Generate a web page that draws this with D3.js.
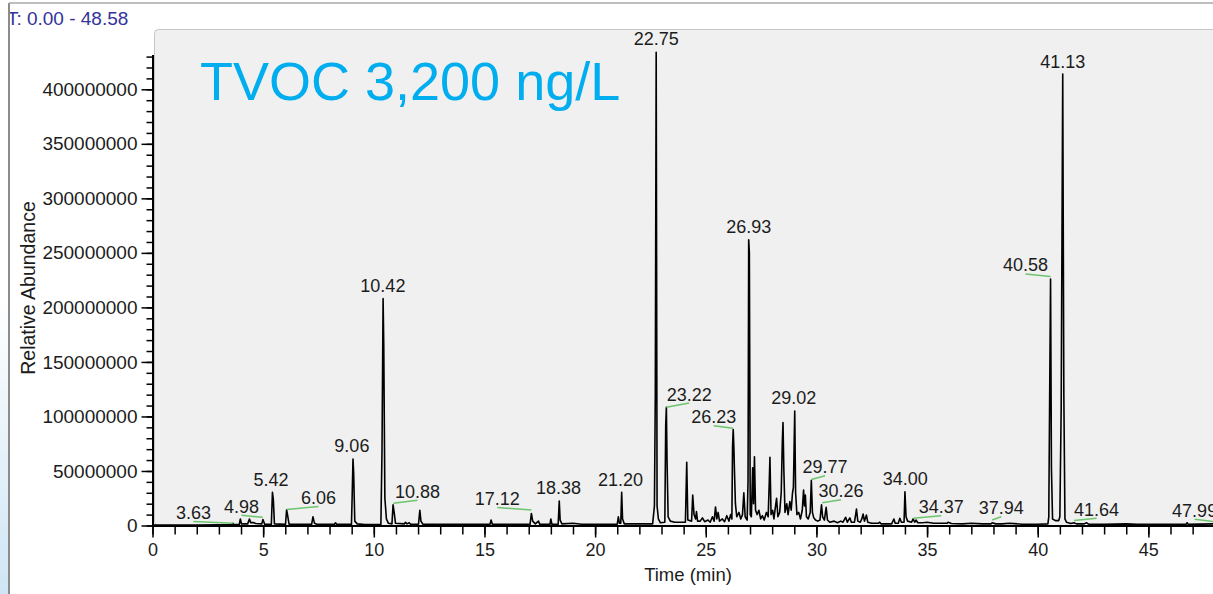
<html>
<head>
<meta charset="utf-8">
<title>TVOC chromatogram</title>
<script src="https://d3js.org/d3.v7.min.js"></script>
<style>
  body { margin: 0; background: #fff; }
  text { font-family: "Liberation Sans", Arial, sans-serif; }
</style>
</head>
<body>
<div id="chart"></div>
<script>

  // Header texts
  let rangeText = "RT: 0.00 - 48.58";
  let titleText = "TVOC 3,200 ng/L";
  let xTitle = "Time (min)";
  let yTitle = "Relative Abundance";

  // Trace: [time (min), relative abundance (millions)]
  let trace = [
    [0.00, 0.4], [1.00, 0.5], [2.00, 0.5], [3.00, 0.6], [3.60, 0.8], [3.63, 2.0], [3.66, 0.8],
    [3.92, 0.8], [3.97, 6.0], [4.02, 1.5], [4.30, 1.5], [4.38, 6.0], [4.44, 2.6], [4.55, 2.8],
    [4.66, 1.8], [4.94, 1.5], [4.99, 5.5], [5.07, 1.2], [5.37, 1.0], [5.42, 30.5], [5.46, 24.0],
    [5.51, 1.5], [6.01, 1.0], [6.06, 14.5], [6.10, 10.0], [6.17, 1.2], [7.19, 1.0], [7.25, 8.0],
    [7.32, 2.0], [7.45, 1.0], [8.21, 1.0], [8.27, 2.5], [8.33, 1.0], [8.99, 1.0], [9.02, 25.0],
    [9.06, 61.0], [9.09, 48.0], [9.14, 4.0], [9.25, 1.5], [9.60, 0.8], [10.32, 1.0], [10.37, 68.0],
    [10.42, 208.0], [10.45, 165.0], [10.50, 25.0], [10.57, 6.0], [10.66, 2.0], [10.82, 1.5],
    [10.87, 19.0], [10.92, 12.0], [10.98, 2.0], [11.38, 1.5], [11.43, 3.0], [11.50, 1.5],
    [11.60, 2.5], [11.66, 1.2], [12.02, 1.2], [12.08, 14.0], [12.13, 4.0], [12.22, 1.2],
    [13.00, 1.0], [14.00, 1.0], [15.25, 1.0], [15.30, 5.0], [15.36, 1.0], [16.20, 1.0],
    [17.06, 1.0], [17.12, 11.0], [17.18, 4.0], [17.30, 1.5], [17.44, 4.0], [17.50, 1.0],
    [17.96, 1.0], [18.00, 6.0], [18.05, 1.0], [18.33, 1.0], [18.38, 22.5], [18.42, 5.0],
    [18.50, 1.5], [19.00, 2.0], [19.40, 1.2], [20.00, 1.2], [21.00, 1.2], [21.05, 8.0],
    [21.10, 2.0], [21.16, 2.0], [21.20, 30.5], [21.24, 6.0], [21.32, 1.5], [22.00, 1.5],
    [22.60, 1.5], [22.68, 18.0], [22.72, 120.0], [22.76, 434.0], [22.80, 18.0], [22.86, 6.0],
    [22.95, 2.5], [23.15, 3.0], [23.19, 92.0], [23.22, 108.5], [23.25, 60.0], [23.30, 8.0],
    [23.40, 4.0], [23.60, 3.0], [24.08, 3.0], [24.14, 58.0], [24.19, 5.0], [24.36, 4.0],
    [24.41, 28.0], [24.47, 10.0], [24.54, 6.0], [24.58, 12.7], [24.63, 4.0], [24.75, 4.0],
    [24.85, 7.0], [24.95, 3.5], [25.10, 5.0], [25.20, 3.0], [25.30, 8.0], [25.38, 4.0],
    [25.44, 17.0], [25.50, 6.0], [25.56, 12.0], [25.62, 4.0], [25.75, 6.0], [25.85, 3.5],
    [25.95, 9.0], [26.05, 4.0], [26.12, 10.0], [26.18, 6.0], [26.21, 72.0], [26.24, 88.0],
    [26.27, 72.0], [26.30, 48.0], [26.34, 20.0], [26.40, 8.0], [26.50, 12.0], [26.58, 6.0],
    [26.66, 10.0], [26.72, 30.0], [26.78, 8.0], [26.87, 5.0], [26.91, 40.0], [26.94, 262.0],
    [26.97, 250.0], [27.01, 10.0], [27.06, 8.0], [27.12, 53.0], [27.16, 20.0], [27.20, 63.0],
    [27.25, 14.0], [27.32, 10.0], [27.40, 14.0], [27.48, 6.0], [27.56, 9.0], [27.64, 5.0],
    [27.74, 12.0], [27.82, 8.0], [27.87, 40.0], [27.90, 62.6], [27.95, 10.0], [28.02, 14.0],
    [28.08, 6.0], [28.14, 16.0], [28.20, 25.0], [28.26, 8.0], [28.34, 12.0], [28.41, 30.0],
    [28.46, 77.0], [28.49, 94.4], [28.53, 50.0], [28.58, 12.0], [28.66, 20.0], [28.72, 10.0],
    [28.80, 22.0], [28.86, 14.0], [28.92, 30.0], [28.96, 35.0], [28.99, 69.0], [29.02, 105.0],
    [29.06, 30.0], [29.12, 10.0], [29.20, 12.0], [29.28, 6.0], [29.36, 14.0], [29.42, 32.6],
    [29.46, 18.0], [29.50, 28.0], [29.55, 8.0], [29.63, 6.0], [29.72, 12.0], [29.77, 41.5],
    [29.82, 12.0], [29.88, 7.0], [29.96, 5.0], [30.06, 4.0], [30.16, 5.0], [30.23, 19.0],
    [30.28, 8.0], [30.36, 5.0], [30.44, 16.7], [30.50, 5.0], [30.60, 3.0], [30.80, 4.0],
    [30.95, 2.5], [31.10, 4.0], [31.20, 3.0], [31.32, 7.5], [31.40, 3.0], [31.51, 7.0],
    [31.58, 3.0], [31.72, 3.0], [31.81, 15.0], [31.87, 4.0], [31.98, 3.0], [32.05, 6.0],
    [32.11, 10.5], [32.17, 4.0], [32.26, 9.6], [32.32, 3.0], [32.50, 2.0], [32.80, 2.0],
    [32.86, 3.0], [32.92, 1.5], [33.40, 1.5], [33.50, 6.0], [33.56, 2.0], [33.70, 2.0],
    [33.77, 6.6], [33.84, 3.0], [33.96, 3.0], [34.00, 31.0], [34.05, 8.0], [34.12, 4.0],
    [34.30, 3.0], [34.37, 6.0], [34.44, 3.0], [34.50, 5.0], [34.58, 2.5], [34.80, 2.5],
    [35.00, 3.0], [35.30, 2.0], [35.90, 2.0], [35.95, 3.0], [36.10, 1.8], [36.60, 1.5],
    [37.00, 2.0], [37.50, 1.5], [37.90, 1.5], [37.94, 2.5], [38.10, 1.5], [38.40, 1.5],
    [38.70, 2.0], [39.30, 1.2], [40.00, 1.2], [40.46, 1.5], [40.50, 8.0], [40.52, 66.0],
    [40.58, 226.0], [40.62, 52.0], [40.67, 6.0], [40.80, 4.5], [40.95, 4.5], [41.00, 8.0],
    [41.06, 107.0], [41.13, 414.0], [41.18, 120.0], [41.23, 6.0], [41.30, 3.0], [41.50, 1.8],
    [41.64, 2.5], [41.75, 1.5], [42.10, 1.5], [42.20, 2.5], [42.30, 1.2], [43.00, 1.0],
    [44.00, 1.5], [44.50, 1.0], [46.00, 1.0], [46.70, 1.0], [46.75, 2.5], [46.80, 1.0],
    [47.99, 1.5], [48.58, 1.0]
  ];

  // Peak labels: text, label centre (min), label baseline (millions),
  // peak end of the green leader (millions, null = no leader)
  let labelText   = ["3.63", "4.98", "5.42", "6.06", "9.06", "10.42", "10.88", "17.12", "18.38", "21.20", "22.75", "23.22",
                     "26.23", "26.93", "29.02", "29.77", "30.26", "34.00", "34.37", "37.94", "40.58", "41.13", "41.64", "47.99"];
  let labelTime   = [1.85, 4.02, 5.36, 7.50, 9.01, 10.41, 11.97, 15.58, 18.35, 21.15, 22.76, 24.25,
                     25.36, 26.94, 28.98, 30.39, 31.11, 34.01, 35.64, 38.35, 39.45, 41.13, 42.66, 47.09];
  let labelAbund  = [6.0, 11.8, 36.3, 19.7, 67.2, 214.4, 25.5, 18.8, 28.6, 36.3, 440.5, 114.6,
                     93.8, 268.0, 111.5, 47.9, 25.9, 37.2, 11.2, 10.3, 233.0, 419.7, 9.0, 8.1];
  let leaderAbund = [2.0, 7.5, null, 14.7, null, null, 20.4, 14.2, null, null, null, 108.5,
                     89.2, null, null, 42.2, 20.9, null, 6.7, 5.0, 228.4, null, 4.6, 3.5];

  // Axis ticks
  let xMajor = [0, 5, 10, 15, 20, 25, 30, 35, 40, 45];
  let xMinor = d3.range(0, 49, 1);
  let yMajor = [0, 50, 100, 150, 200, 250, 300, 350, 400];
  let yMinor = d3.range(0, 431, 10);

  <!-- Size -->
  let width = 1213;
  let height = 594;

  let svg = d3.select("#chart").append("svg")
    .attr("width", width)
    .attr("height", height)
    .style("display", "block");

  let defs = svg.append("defs");
  let grad = defs.append("linearGradient")
    .attr("id", "leftFade")
    .attr("x1", 0).attr("y1", 0).attr("x2", 0).attr("y2", 1);
  grad.append("stop").attr("offset", "50%").attr("stop-color", "#ffffff");
  grad.append("stop").attr("offset", "100%").attr("stop-color", "#cfe5f5");
  defs.append("clipPath").attr("id", "frameClip")
    .append("rect").attr("x", 10).attr("y", 4).attr("width", width).attr("height", height);

  <!-- Window frame -->
  svg.append("rect")
    .attr("x", 0).attr("y", 0)
    .attr("width", 9).attr("height", height)
    .style("fill", "url(#leftFade)");
  svg.append("line")
    .attr("x1", 9).attr("x2", 9).attr("y1", 3).attr("y2", height)
    .style("stroke", "#8c8c8c").style("stroke-width", 2);
  svg.append("line")
    .attr("x1", 9).attr("x2", width).attr("y1", 3).attr("y2", 3)
    .style("stroke", "#a8a8a8").style("stroke-width", 1.5);

  svg.append("text")
    .attr("clip-path", "url(#frameClip)")
    .attr("x", -6.5).attr("y", 25)
    .style("font-size", "19px")
    .style("fill", "#33339a")
    .text(rangeText);

  <!-- Scales -->
  let x = d3.scaleLinear().domain([0, 48.58]).range([152.5, 1227.6]);
  let y = d3.scaleLinear().domain([0, 432]).range([525.5, 54.4]);

  <!-- Plot panel -->
  svg.append("rect")
    .attr("x", 154.5).attr("y", 29.5)
    .attr("width", 1075).attr("height", 496)
    .attr("rx", 4)
    .style("fill", "#f0f0f0")
    .style("stroke", "#c6c6c6");

  <!-- Title -->
  svg.append("text")
    .attr("x", 200).attr("y", 100)
    .style("font-size", "54px")
    .style("fill", "#00aeef")
    .text(titleText);

  <!-- Axes -->
  let xMinorAxis = svg.append("g")
    .attr("transform", "translate(0," + y(0) + ")")
    .call(d3.axisBottom(x).tickValues(xMinor).tickSize(9).tickSizeOuter(0).tickFormat(""));
  xMinorAxis.select(".domain").remove();

  let xAxis = svg.append("g")
    .attr("transform", "translate(0," + y(0) + ")")
    .call(d3.axisBottom(x).tickValues(xMajor).tickSize(12).tickSizeOuter(0).tickPadding(6).tickFormat(d3.format("d")));

  let yMinorAxis = svg.append("g")
    .attr("transform", "translate(" + x(0) + ",0)")
    .call(d3.axisLeft(y).tickValues(yMinor).tickSize(6).tickSizeOuter(0).tickFormat(""));
  yMinorAxis.select(".domain").remove();

  let yAxis = svg.append("g")
    .attr("transform", "translate(" + x(0) + ",0)")
    .call(d3.axisLeft(y).tickValues(yMajor).tickSize(11).tickSizeOuter(0).tickPadding(4)
      .tickFormat(d => String(d * 1000000)));

  svg.selectAll(".domain").style("stroke", "#000").style("stroke-width", 2);
  svg.selectAll(".tick line").style("stroke", "#000").style("stroke-width", 1.5);
  svg.selectAll(".tick text")
    .style("font-family", "'Liberation Sans', Arial, sans-serif")
    .style("font-size", "18px")
    .style("fill", "#1c1c1c");
  yAxis.selectAll(".tick text").style("font-size", "19px");

  svg.append("text")
    .attr("x", 688).attr("y", 581)
    .attr("text-anchor", "middle")
    .style("font-size", "18.5px")
    .style("fill", "#1c1c1c")
    .text(xTitle);

  svg.append("text")
    .attr("transform", "translate(35,288) rotate(-90)")
    .attr("text-anchor", "middle")
    .style("font-size", "19.5px")
    .style("fill", "#1c1c1c")
    .text(yTitle);

  <!-- Chromatogram trace -->
  let line = d3.line()
    .x(d => x(d[0]))
    .y(d => y(d[1]));

  svg.append("path")
    .datum(trace)
    .attr("d", line)
    .style("fill", "none")
    .style("stroke", "#000")
    .style("stroke-width", 1.6)
    .style("stroke-linejoin", "round");

  <!-- Green leaders and peak labels -->
  let labels = labelText.map((t, i) => ({
    text: t, rt: parseFloat(t),
    lx: labelTime[i], ly: labelAbund[i], peak: leaderAbund[i]
  }));

  svg.append("g")
    .selectAll("line")
    .data(labels.filter(d => d.peak !== null))
    .enter()
    .append("line")
      .attr("x1", d => x(d.rt))
      .attr("y1", d => y(d.peak))
      .attr("x2", d => x(d.lx))
      .attr("y2", d => y(d.ly) + 2.5)
      .style("stroke", "#6cc46c")
      .style("stroke-width", 1.5);

  svg.append("g")
    .selectAll("text")
    .data(labels)
    .enter()
    .append("text")
      .attr("x", d => x(d.lx))
      .attr("y", d => y(d.ly))
      .attr("text-anchor", "middle")
      .style("font-size", "18px")
      .style("fill", "#1c1c1c")
      .text(d => d.text);

</script>
</body>
</html>
